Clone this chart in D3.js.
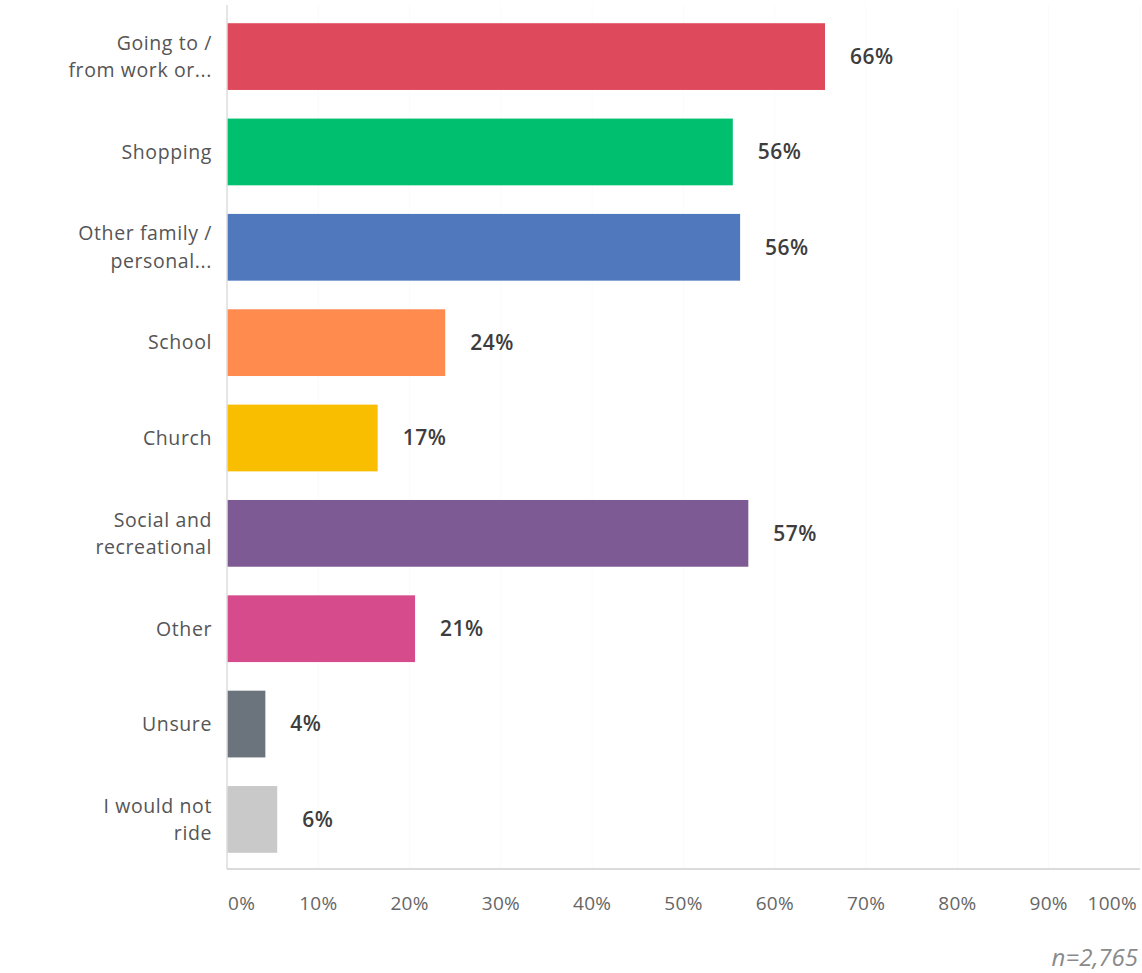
<!DOCTYPE html>
<html>
<head>
<meta charset="utf-8">
<script src="https://cdn.jsdelivr.net/npm/d3@7"></script>
<style>
  body { margin: 0; background: #fff; }
  text { font-family: "Open Sans", sans-serif; }
</style>
</head>
<body>
<script>
// chart data
var categories = [
  ["Going to /", "from work or..."],
  ["Shopping"],
  ["Other family /", "personal..."],
  ["School"],
  ["Church"],
  ["Social and", "recreational"],
  ["Other"],
  ["Unsure"],
  ["I would not", "ride"]
];
var values = [65.5, 55.4, 56.2, 23.9, 16.5, 57.1, 20.6, 4.2, 5.5];
var valueLabels = ["66%", "56%", "56%", "24%", "17%", "57%", "21%", "4%", "6%"];
var colors = ["#de4a5c", "#00bf6f", "#4f78bd", "#ff8b4f", "#f9be00", "#7d5a93", "#d64b8c", "#6b747c", "#c9c9c9"];
var ticks = [0, 10, 20, 30, 40, 50, 60, 70, 80, 90, 100];
var note = "n=2,765";

var width = 1142;
var height = 973;

var svg = d3.select("body")
            .append("svg")
               .attr("width", width)
               .attr("height", height);

var x = d3.scaleLinear()
         .domain([0, 100])
         .range([227, 1140]);

var y = d3.scaleBand()
         .domain(d3.range(categories.length))
         .range([7, 869])
         .paddingInner(0.3)
         .paddingOuter(0.17);

// very faint gridlines
svg.append("g")
   .selectAll("line")
   .data(ticks.slice(1))
   .enter().append("line")
      .attr("x1", function(d) { return x(d); })
      .attr("x2", function(d) { return x(d); })
      .attr("y1", 5)
      .attr("y2", 869)
      .style("stroke", "#fbfbfb");

// bars
svg.selectAll(".bar")
   .data(values)
   .enter().append("rect")
      .attr("class", "bar")
      .attr("x", x(0))
      .attr("y", function(d, i) { return y(i); })
      .attr("width", function(d) { return x(d) - x(0); })
      .attr("height", y.bandwidth())
      .style("fill", function(d, i) { return colors[i]; });

// value labels
svg.selectAll(".val")
   .data(values)
   .enter().append("text")
      .attr("class", "val")
      .attr("x", function(d) { return x(d) + 25; })
      .attr("y", function(d, i) { return y(i) + y.bandwidth() / 2; })
      .attr("dy", "0.35em")
      .style("font-size", "21px")
      .style("font-weight", "600")
      .style("letter-spacing", "0.5px")
      .style("fill", "#3d3d3d")
      .text(function(d, i) { return valueLabels[i]; });

// axis lines
svg.append("line")
   .attr("x1", x(0)).attr("x2", x(0))
   .attr("y1", 5).attr("y2", 869)
   .style("stroke", "#dcdcdc")
   .style("stroke-width", 1.5);

svg.append("line")
   .attr("x1", x(0)).attr("x2", x(100))
   .attr("y1", 869).attr("y2", 869)
   .style("stroke", "#cfcfcf")
   .style("stroke-width", 1.5);

// category labels
var cat = svg.selectAll(".cat")
   .data(categories)
   .enter().append("text")
      .attr("class", "cat")
      .attr("text-anchor", "end")
      .attr("y", function(d, i) { return y(i) + y.bandwidth() / 2; })
      .style("font-size", "19.5px")
      .style("letter-spacing", "0.6px")
      .style("fill", "#555");

cat.selectAll("tspan")
   .data(function(d) { return d; })
   .enter().append("tspan")
      .attr("x", 212)
      .attr("dy", function(d, j, nodes) {
         var n = nodes.length;
         return j == 0 ? (0.35 - (n - 1) * 0.7) + "em" : "1.4em";
      })
      .text(function(d) { return d; });

// x tick labels
svg.selectAll(".tick")
   .data(ticks)
   .enter().append("text")
      .attr("class", "tick")
      .attr("x", function(d) {
         if (d == 0) return x(d) + 1;
         if (d == 100) return x(d) - 3;
         return x(d);
      })
      .attr("y", 903)
      .attr("dy", "0.35em")
      .attr("text-anchor", function(d) {
         if (d == 0) return "start";
         if (d == 100) return "end";
         return "middle";
      })
      .style("font-size", "19px")
      .style("letter-spacing", "0.3px")
      .style("fill", "#666")
      .text(function(d) { return d + "%"; });

// sample size note
svg.append("text")
   .attr("x", 1138)
   .attr("y", 966)
   .attr("text-anchor", "end")
   .style("font-size", "24px")
   .style("font-style", "italic")
   .style("fill", "#8a8a8a")
   .text(note);
</script>
</body>
</html>
